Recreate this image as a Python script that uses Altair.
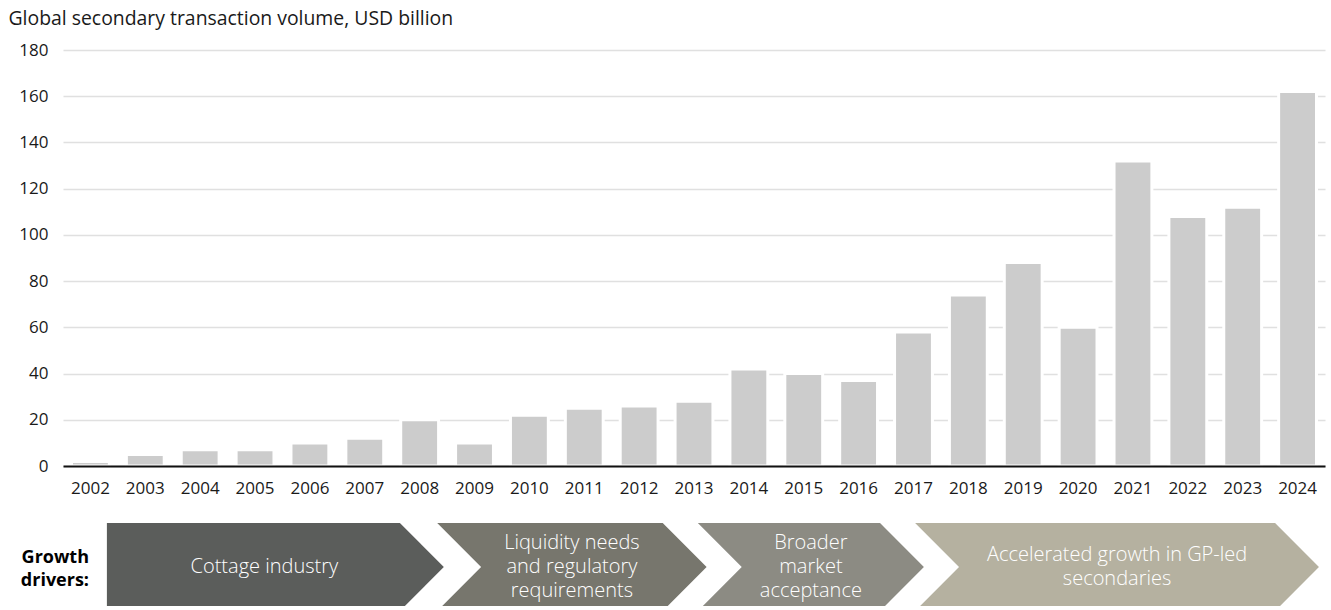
import altair as alt
import pandas as pd

# ---- data -------------------------------------------------------------
years = [str(y) for y in range(2002, 2025)]
volumes = [2, 5, 7, 7, 10, 12, 20, 10, 22, 25, 26, 28, 42, 40, 37, 58, 74, 88,
           60, 132, 108, 112, 162]

phase_names = ["Cottage industry",
               "Liquidity needs\nand regulatory\nrequirements",
               "Broader\nmarket\nacceptance",
               "Accelerated growth in GP-led\nsecondaries"]
# chevron extents measured in year-slots along the x axis (0 = left edge of 2002)
phase_start = [0.80, 6.82, 11.57, 15.53]
phase_end = [6.14, 10.93, 14.89, 22.09]
phase_notch = [0.0, 0.80, 0.80, 0.80]
phase_colors = ["#5b5d5b", "#77766d", "#8c8b83", "#b5b1a0"]
point_len = 0.80
driver_label = "Growth\ndrivers:"

FONT = "Open Sans"
BOTTOM_H = 83
Y_DOMAIN = [-0.886, 1]
PX_PER_UNIT = BOTTOM_H / (Y_DOMAIN[1] - Y_DOMAIN[0])

# ---- tables built from the arrays ---------------------------------------
bars_df = pd.DataFrame({"year": years, "volume": volumes})

rows = []
for name, s, e, n in zip(phase_names, phase_start, phase_end, phase_notch):
    for yy in (1, 0, -1):
        mid = yy == 0
        rows.append({"phase": name, "y": yy,
                     "xl": s + (n if mid else 0.0),
                     "xr": e + (point_len if mid else 0.0)})
chev_df = pd.DataFrame(rows)
centers = (chev_df[chev_df.y >= 0].groupby("phase", sort=False)
           .agg(xl=("xl", "mean"), xr=("xr", "mean")))
centers["xc"] = (centers.xl + centers.xr) / 2


def explode(label, xc, line_px, shift_px=0.0):
    parts = label.split("\n")
    n = len(parts)
    step = line_px / PX_PER_UNIT
    return [{"line": p, "xc": xc,
             "yc": -(i - (n - 1) / 2) * step - shift_px / PX_PER_UNIT}
            for i, p in enumerate(parts)]


lab_rows = []
for name in phase_names:
    lab_rows += explode(name, centers.loc[name, "xc"], 24)
lab_df = pd.DataFrame(lab_rows)
drv_df = pd.DataFrame(explode(driver_label, 0.474, 23, shift_px=2.5))

# ---- top: bar chart -----------------------------------------------------
bars = alt.Chart(bars_df).mark_bar(
    color="#cccccc", stroke="white", strokeWidth=3
).encode(
    x=alt.X("year:N", sort=years,
            scale=alt.Scale(paddingInner=0.31, paddingOuter=0.155),
            axis=alt.Axis(title=None, labelAngle=0, labelFontSize=17,
                          labelPadding=14, ticks=False, domainColor="#111111",
                          domainWidth=2, labelColor="#1a1a1a", zindex=1,
                          labelFont=FONT)),
    y=alt.Y("volume:Q", scale=alt.Scale(domain=[0, 180], nice=False),
            axis=alt.Axis(values=list(range(0, 181, 20)),
                          title="Global secondary transaction volume, USD billion",
                          titleAngle=0, titleAlign="left",
                          titleBaseline="alphabetic", titleX=-55, titleY=-26,
                          titleFontSize=19.4, titleFontWeight="normal",
                          titleColor="#1a1a1a", titleFont=FONT,
                          domain=False, ticks=False, labelPadding=15,
                          labelFontSize=17, labelColor="#1a1a1a", labelFont=FONT,
                          gridColor="#e0e0e0", gridWidth=1.5)),
).properties(width=1262, height=416)

# ---- bottom: growth-driver chevrons ---------------------------------------
xs = alt.Scale(domain=[0, 23], nice=False, zero=False)
ys = alt.Scale(domain=Y_DOMAIN, nice=False, zero=False)

chev = alt.Chart(chev_df).mark_area(orient="horizontal", clip=True).encode(
    y=alt.Y("y:Q", scale=ys, axis=None),
    x=alt.X("xl:Q", scale=xs, axis=None),
    x2="xr:Q",
    color=alt.Color("phase:N", scale=alt.Scale(domain=phase_names, range=phase_colors),
                    legend=None),
)

chev_text = alt.Chart(lab_df).mark_text(
    color="white", fontSize=20, font=FONT, fontWeight=300,
    align="center", baseline="middle"
).encode(
    x=alt.X("xc:Q", scale=xs, axis=None),
    y=alt.Y("yc:Q", scale=ys, axis=None),
    text="line:N",
)

drv_text = alt.Chart(drv_df).mark_text(
    color="black", fontSize=18, font=FONT, fontWeight="bold",
    align="right", baseline="middle"
).encode(
    x=alt.X("xc:Q", scale=xs, axis=None),
    y=alt.Y("yc:Q", scale=ys, axis=None),
    text="line:N",
)

bottom = alt.layer(chev, chev_text, drv_text).properties(width=1262, height=BOTTOM_H)

chart = alt.vconcat(bars, bottom, spacing=27).properties(
    padding={"left": 8, "top": 8, "right": 6, "bottom": 0}
).configure_view(stroke=None)

chart.save("out.html", embed_options={"renderer": "svg", "actions": False})
